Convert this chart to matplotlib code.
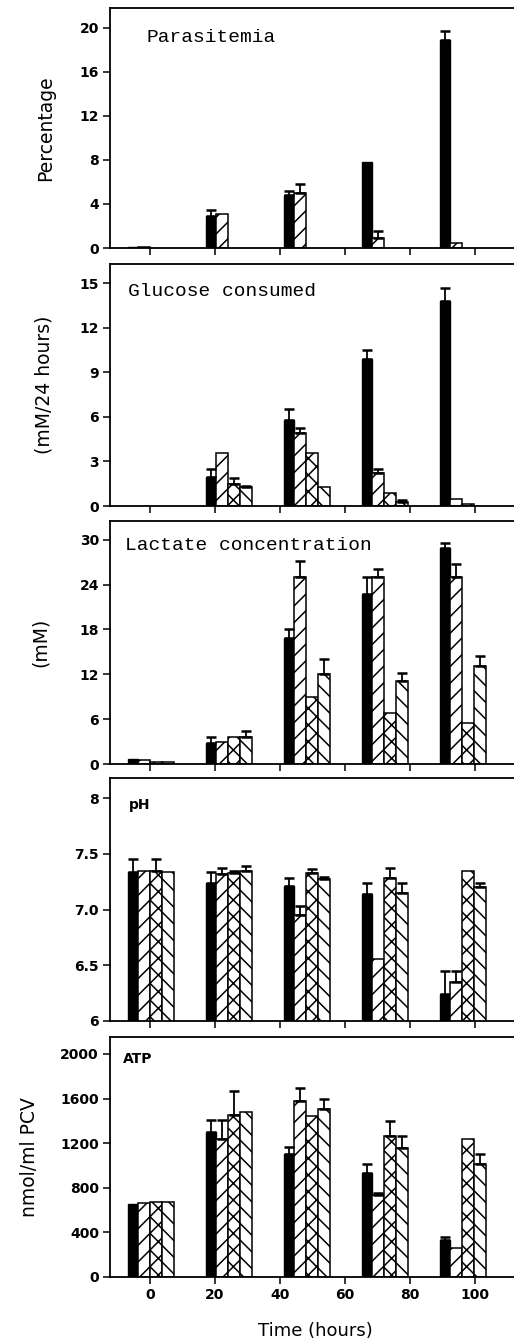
import numpy as np
import matplotlib
matplotlib.use("Agg")
import matplotlib.pyplot as plt

nan = np.nan

# sampling times (hours)
times = [0, 24, 48, 72, 96]

# Parasitemia (%)
para_s1 = [0.1, 2.9, 4.8, 7.8, 18.9]
para_s1_err = [0, 0.55, 0.4, 0, 0.8]
para_s2 = [0.1, 3.1, 5.0, 0.9, 0.45]
para_s2_err = [0, 0, 0.8, 0.6, 0]

# Glucose consumed (mM/24 hours)
glu_s1 = [nan, 1.95, 5.8, 9.9, 13.8]
glu_s1_err = [0, 0.55, 0.7, 0.6, 0.9]
glu_s2 = [nan, 3.55, 4.95, 2.2, 0.5]
glu_s2_err = [0, 0, 0.3, 0.3, 0]
glu_s3 = [nan, 1.5, 3.55, 0.9, 0.15]
glu_s3_err = [0, 0.4, 0, 0, 0]
glu_s4 = [nan, 1.3, 1.3, 0.3, nan]
glu_s4_err = [0, 0.05, 0, 0.1, 0]

# Lactate concentration (mM)
lac_s1 = [0.7, 2.8, 16.8, 22.8, 28.9]
lac_s1_err = [0, 0.8, 1.2, 2.2, 0.7]
lac_s2 = [0.5, 3.0, 25.0, 25.0, 25.0]
lac_s2_err = [0, 0, 2.1, 1.1, 1.8]
lac_s3 = [0.3, 3.6, 8.9, 6.8, 5.5]
lac_s3_err = [0, 0, 0, 0, 0]
lac_s4 = [0.3, 3.6, 12.0, 11.1, 13.1]
lac_s4_err = [0, 0.8, 2.0, 1.1, 1.3]

# pH
ph_s1 = [7.34, 7.24, 7.21, 7.14, 6.24]
ph_s1_err = [0.11, 0.10, 0.07, 0.10, 0.21]
ph_s2 = [7.35, 7.32, 6.95, 6.56, 6.35]
ph_s2_err = [0, 0.05, 0.08, 0, 0.10]
ph_s3 = [7.35, 7.33, 7.33, 7.28, 7.35]
ph_s3_err = [0.10, 0.02, 0.03, 0.09, 0]
ph_s4 = [7.34, 7.35, 7.27, 7.15, 7.20]
ph_s4_err = [0, 0.04, 0.02, 0.09, 0.04]

# ATP (nmol/ml PCV)
atp_s1 = [655, 1300, 1103, 933, 332]
atp_s1_err = [0, 108, 63, 80, 27]
atp_s2 = [660, 1238, 1578, 735, 260]
atp_s2_err = [0, 170, 117, 20, 0]
atp_s3 = [670, 1453, 1444, 1264, 1238]
atp_s3_err = [0, 215, 0, 135, 0]
atp_s4 = [670, 1480, 1506, 1157, 1013]
atp_s4_err = [0, 0, 90, 107, 90]

panels = [
    ("Parasitemia", "Percentage", [(para_s1, para_s1_err), (para_s2, para_s2_err)],
     [0, 4, 8, 12, 16, 20], ["0", "4", "8", "12", "16", "20"], (0, 21.8)),
    ("Glucose consumed", "(mM/24 hours)",
     [(glu_s1, glu_s1_err), (glu_s2, glu_s2_err), (glu_s3, glu_s3_err), (glu_s4, glu_s4_err)],
     [0, 3, 6, 9, 12, 15], ["0", "3", "6", "9", "12", "15"], (0, 16.3)),
    ("Lactate concentration", "(mM)",
     [(lac_s1, lac_s1_err), (lac_s2, lac_s2_err), (lac_s3, lac_s3_err), (lac_s4, lac_s4_err)],
     [0, 6, 12, 18, 24, 30], ["0", "6", "12", "18", "24", "30"], (0, 32.5)),
    ("pH", "",
     [(ph_s1, ph_s1_err), (ph_s2, ph_s2_err), (ph_s3, ph_s3_err), (ph_s4, ph_s4_err)],
     [6, 6.5, 7.0, 7.5, 8], ["6", "6.5", "7.0", "7.5", "8"], (6, 8.18)),
    ("ATP", "nmol/ml PCV",
     [(atp_s1, atp_s1_err), (atp_s2, atp_s2_err), (atp_s3, atp_s3_err), (atp_s4, atp_s4_err)],
     [0, 400, 800, 1200, 1600, 2000], ["0", "400", "800", "1200", "1600", "2000"], (0, 2152)),
]

hatches = [None, "//", "xx", "\\\\"]
width = 3.7
black_width = 3.0

# panel boxes in pixels (top, bottom) of a 514x1344 image
W, H = 514, 1344
boxes = [(8, 248), (264, 506), (521, 764), (778, 1021), (1037, 1277)]
ylab_px = [55, 54, 50, None, 39]
title_pos = [(147, 37), (128, 292), (125, 546), (129, 805), (123, 1059)]

plt.rcParams["hatch.linewidth"] = 1.1

fig = plt.figure(figsize=(W / 100, H / 100), dpi=100)

for i, (title, ylabel, series, yt, ytl, ylim) in enumerate(panels):
    top, bot = boxes[i]
    ax = fig.add_axes([110 / W, (H - bot) / H, 410 / W, (bot - top) / H])
    for j, (vals, errs) in enumerate(series):
        x = np.array(times) + (j - 1.5) * width
        v = np.array(vals, dtype=float)
        e = np.array(errs, dtype=float)
        if j == 0:
            x = x + (width - black_width) / 2
            ax.bar(x, v, black_width, color="black", edgecolor="black", linewidth=1)
        else:
            ax.bar(x, v, width, color="white", edgecolor="black", linewidth=1.1,
                   hatch=hatches[j])
        m = (e > 0) & ~np.isnan(v)
        ax.errorbar(x[m], v[m], yerr=[np.zeros(m.sum()), e[m]], fmt="none",
                    ecolor="black", elinewidth=1.3, capsize=3.5, capthick=1.8)

    ax.set_xlim(-40 / 3.25, 370 / 3.25)
    ax.set_ylim(*ylim)
    ax.set_yticks(yt)
    ax.set_yticklabels(ytl, fontsize=10, fontweight="bold")
    ax.set_xticks([0, 20, 40, 60, 80, 100])
    if i == len(panels) - 1:
        ax.set_xticklabels(["0", "20", "40", "60", "80", "100"], fontsize=10,
                           fontweight="bold")
        ax.set_xlabel("Time (hours)", fontsize=13, labelpad=14)
    else:
        ax.set_xticklabels([])
    ax.tick_params(direction="out", length=5, width=1.1, pad=3)
    for s in ax.spines.values():
        s.set_linewidth(1.3)

    if ylabel:
        ax.set_ylabel(ylabel, fontsize=13.5)
        ax.yaxis.set_label_coords((ylab_px[i] - 110) / 410, 0.5)

    tx, ty = title_pos[i]
    if i < 3:
        fig.text(tx / W, 1 - ty / H, title, family="Liberation Mono",
                 fontsize=14, va="center", ha="left")
    else:
        fig.text(tx / W, 1 - ty / H, title, fontsize=10, fontweight="bold",
                 va="center", ha="left")

fig.savefig("out.png", dpi=100)
